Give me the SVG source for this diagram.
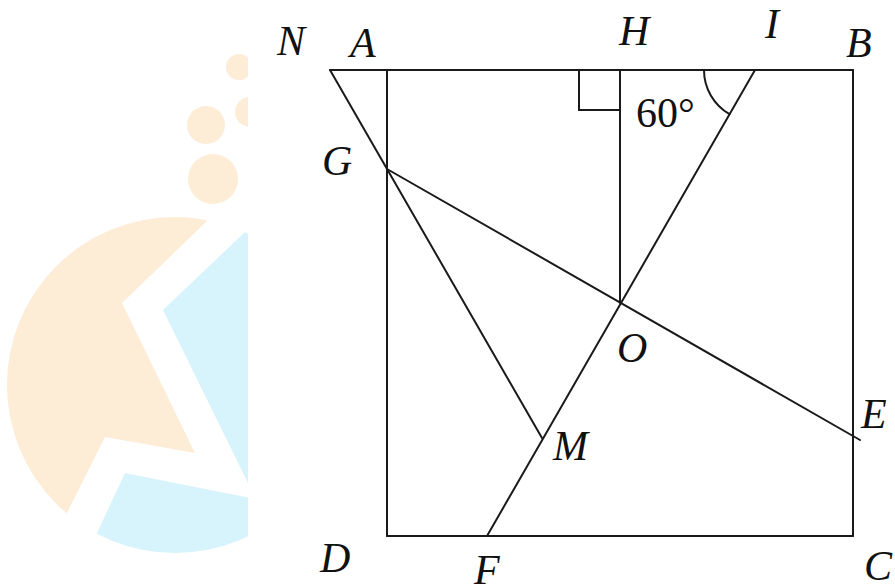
<svg xmlns="http://www.w3.org/2000/svg" width="895" height="585" viewBox="0 0 895 585">
<style>
.ln{stroke:#1a1a1a;stroke-width:2;fill:none;stroke-linecap:round}
.lb{font-family:"Liberation Serif","DejaVu Serif",serif;font-size:42px;font-style:italic;fill:#111}
.up{font-family:"Liberation Serif","DejaVu Serif",serif;font-size:42px;fill:#111}
.wo{fill:#fdecd6}
.wb{fill:#d7f3fb}
</style>
<defs>
<clipPath id="circ"><circle cx="175" cy="385" r="168"/></clipPath>
<clipPath id="left"><rect x="0" y="0" width="248" height="585"/></clipPath>
</defs>
<rect width="895" height="585" fill="#fff"/>
<g id="watermark" clip-path="url(#left)">
<g clip-path="url(#circ)">
<path class="wo" d="M206,222 L122,303 L195,453 L105,437 L67,513 L0,600 L0,150 L230,150 Z"/>
<path class="wb" d="M245,232 L163,310 L248,483 L300,483 L300,150 L260,150 Z"/>
<path class="wb" d="M125,473 L300,508 L300,600 L60,600 L97,533 Z"/>
</g>
<circle class="wo" cx="239" cy="67" r="13"/>
<circle class="wo" cx="250" cy="112" r="15"/>
<circle class="wo" cx="206" cy="125" r="19"/>
<circle class="wo" cx="213" cy="179" r="25"/>
</g>
<g id="connectors">
<line class="ln" x1="330" y1="70" x2="853" y2="70"/>
<line class="ln" x1="387" y1="70" x2="387" y2="536"/>
<line class="ln" x1="387" y1="536" x2="853" y2="536"/>
<line class="ln" x1="853" y1="70" x2="853" y2="536"/>
<line class="ln" x1="620" y1="70" x2="620" y2="303"/>
<polyline class="ln" points="620,110 579,110 579,70"/>
<line class="ln" x1="755" y1="70" x2="487" y2="536"/>
<line class="ln" x1="330" y1="70" x2="542" y2="438"/>
<line class="ln" x1="387" y1="169" x2="860" y2="440"/>
<path class="ln" d="M704,70 A51,51 0 0 0 729.5,114.2"/>
</g>
<g id="labels">
<text class="lb" x="277" y="55">N</text>
<text class="lb" x="350" y="57">A</text>
<text class="lb" x="619" y="45">H</text>
<text class="lb" x="765" y="38">I</text>
<text class="lb" x="846" y="57">B</text>
<text class="lb" x="322" y="175">G</text>
<text class="lb" x="617" y="362">O</text>
<text class="lb" x="861" y="428">E</text>
<text class="lb" x="553" y="460">M</text>
<text class="lb" x="320" y="572">D</text>
<text class="lb" x="474" y="584">F</text>
<text class="lb" x="864" y="580">C</text>
<text class="up" x="636" y="127">60°</text>
</g>
</svg>
